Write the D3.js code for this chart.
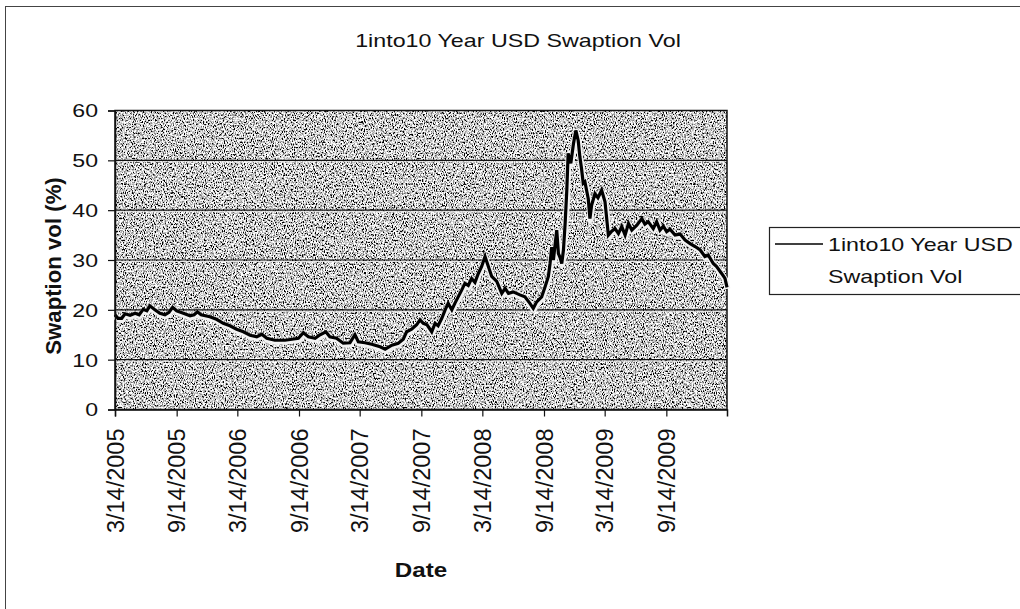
<!DOCTYPE html>
<html>
<head>
<meta charset="utf-8">
<title>1into10 Year USD Swaption Vol</title>
<script src="https://cdn.jsdelivr.net/npm/d3@7"></script>
<style>
    html, body { margin: 0; padding: 0; background: #fff; }
    svg { display: block; font-family: "Liberation Sans", Arial, sans-serif; }
</style>
</head>
<body>
<svg id="chart"></svg>
<script>
const dates = [
    "2005-03-14","2005-03-23","2005-04-03","2005-04-13","2005-04-28","2005-05-13","2005-05-25","2005-06-06",
    "2005-06-17","2005-06-26","2005-07-11","2005-07-26","2005-08-10","2005-08-22","2005-09-02","2005-09-14",
    "2005-10-04","2005-10-24","2005-11-05","2005-11-15","2005-11-26","2005-12-22",
    "2006-01-11","2006-01-31","2006-02-20","2006-03-12","2006-04-01","2006-04-21","2006-05-11","2006-05-26",
    "2006-06-10","2006-07-04","2006-08-03","2006-08-24","2006-09-12","2006-09-27","2006-10-12","2006-11-01",
    "2006-11-16","2006-12-03","2006-12-15",
    "2007-01-04","2007-01-24","2007-02-13","2007-02-28","2007-03-10","2007-03-30","2007-04-19","2007-05-14",
    "2007-05-29","2007-06-18","2007-07-07","2007-07-22","2007-08-01","2007-08-16","2007-08-31","2007-09-10",
    "2007-09-20","2007-10-01","2007-10-15","2007-10-25","2007-11-03","2007-11-14","2007-11-24","2007-12-03",
    "2007-12-14","2007-12-23",
    "2008-01-02","2008-01-12","2008-01-22","2008-02-01","2008-02-11","2008-02-21","2008-03-02","2008-03-12",
    "2008-03-22","2008-04-01","2008-04-11","2008-04-26","2008-05-11","2008-05-21","2008-05-31","2008-06-14",
    "2008-07-04","2008-07-19","2008-08-03","2008-08-13","2008-08-23","2008-09-07","2008-09-17","2008-09-27",
    "2008-10-02","2008-10-07","2008-10-12","2008-10-17","2008-10-22","2008-10-27","2008-11-01","2008-11-06",
    "2008-11-11","2008-11-16","2008-11-21","2008-11-25","2008-12-03","2008-12-11","2008-12-18","2008-12-25",
    "2008-12-30",
    "2009-01-04","2009-01-09","2009-01-14","2009-01-24","2009-01-29","2009-02-03","2009-02-13","2009-02-22",
    "2009-03-05","2009-03-15","2009-03-25","2009-04-04","2009-04-14","2009-04-24","2009-05-04","2009-05-14",
    "2009-05-24","2009-06-03","2009-06-18","2009-07-03","2009-07-12","2009-07-22","2009-08-06","2009-08-16",
    "2009-08-26","2009-09-05","2009-09-15","2009-09-25","2009-10-10","2009-10-25","2009-11-09","2009-11-24",
    "2009-12-09","2009-12-24",
    "2010-01-07","2010-01-17","2010-02-01","2010-02-11","2010-02-26","2010-03-08","2010-03-14"
];

// Swaption vol (%) for each date
const vols = [
    19.0, 18.3, 18.3, 19.2, 18.9, 19.3, 19.0, 20.1,
    19.8, 20.8, 20.0, 19.3, 19.0, 19.5, 20.5, 19.8,
    19.3, 18.8, 19.0, 19.6, 19.0, 18.6,
    18.1, 17.3, 16.8, 16.1, 15.6, 14.9, 14.6, 15.1,
    14.3, 13.9, 13.9, 14.1, 14.3, 15.4, 14.6, 14.3,
    15.0, 15.6, 14.6,
    14.3, 13.3, 13.4, 15.0, 13.6, 13.4, 13.1, 12.6,
    12.1, 12.9, 13.3, 14.1, 15.6, 16.1, 17.0, 18.0,
    17.3, 17.0, 15.6, 17.3, 16.8, 18.3, 20.0, 21.3,
    20.0, 21.3,
    22.6, 23.9, 25.3, 24.9, 26.3, 25.5, 27.3, 28.7,
    30.7, 28.7, 26.7, 25.7, 23.3, 24.3, 23.3, 23.6,
    23.0, 22.6, 21.3, 20.3, 21.6, 22.6, 24.6, 26.7,
    29.3, 32.6, 30.0, 33.0, 36.0, 31.3, 30.5, 29.3,
    32.0, 37.3, 44.0, 51.4, 49.4, 53.4, 56.0, 54.0,
    50.7,
    48.3, 45.4, 45.7, 42.3, 38.3, 41.0, 43.3, 42.5,
    44.0, 41.7, 35.0, 35.8, 36.3, 35.3, 36.7, 35.0,
    37.3, 36.0, 37.0, 38.3, 37.2, 37.7, 36.3, 37.7,
    36.0, 36.8, 35.7, 36.2, 35.0, 35.2, 34.0, 33.3,
    32.7, 32.0,
    30.7, 31.0, 29.3, 28.7, 27.3, 26.3, 24.5
];

const xTickDates = [
    "2005-03-14","2005-09-14","2006-03-14","2006-09-14","2007-03-14",
    "2007-09-14","2008-03-14","2008-09-14","2009-03-14","2009-09-14"
];
const yTicks = [0, 10, 20, 30, 40, 50, 60];

const chartTitle = "1into10 Year USD Swaption Vol";
const seriesName = ["1into10 Year USD", "Swaption Vol"];

const width = 1020, height = 609;
const plot = { left: 115, right: 727, top: 110.5, bottom: 409.5 };
const stretch = 1.25; // the scanned horizontal text is wider than normal

const parse = d3.timeParse("%Y-%m-%d");
const data = dates.map((d, i) => ({ date: parse(d), vol: vols[i] }));

const svg = d3.select("#chart")
    .attr("width", width)
    .attr("height", height);

// Grainy grey fill like the scanned plot area
const defs = svg.append("defs");
const grain = defs.append("filter")
    .attr("id", "grain")
    .attr("x", 0).attr("y", 0).attr("width", 1).attr("height", 1);
grain.append("feTurbulence")
    .attr("type", "fractalNoise")
    .attr("baseFrequency", "0.9 0.55")
    .attr("numOctaves", 2)
    .attr("seed", 7)
    .attr("result", "noise");
grain.append("feColorMatrix")
    .attr("in", "noise")
    .attr("type", "matrix")
    .attr("values", "3.6 0 0 0 -1.2  3.6 0 0 0 -1.2  3.6 0 0 0 -1.2  0 0 0 0 1");

// Outer chart border (right and bottom run off the picture)
svg.append("rect")
    .attr("x", 5.5)
    .attr("y", 6.5)
    .attr("width", 1040)
    .attr("height", 640)
    .attr("fill", "none")
    .attr("stroke", "#444")
    .attr("stroke-width", 1);

// Scales
const x = d3.scaleTime()
    .domain([parse("2005-03-14"), parse("2010-03-14")])
    .range([plot.left, plot.right]);

const y = d3.scaleLinear()
    .domain([0, 60])
    .range([plot.bottom, plot.top]);

// Plot area background
svg.append("rect")
    .attr("x", plot.left)
    .attr("y", plot.top)
    .attr("width", plot.right - plot.left)
    .attr("height", plot.bottom - plot.top)
    .attr("fill", "#949494")
    .attr("filter", "url(#grain)");

// Gridlines (dark line with a light streak under it, as in the scan)
const grid = svg.append("g");
yTicks.filter(v => v > 0 && v < 60).forEach(v => {
    grid.append("line")
        .attr("x1", plot.left).attr("x2", plot.right)
        .attr("y1", y(v) + 1.5).attr("y2", y(v) + 1.5)
        .attr("stroke", "#e6e6e6")
        .attr("stroke-width", 1);
    grid.append("line")
        .attr("x1", plot.left).attr("x2", plot.right)
        .attr("y1", y(v)).attr("y2", y(v))
        .attr("stroke", "#111")
        .attr("stroke-width", 1.2);
});

// Plot border
svg.append("rect")
    .attr("x", plot.left)
    .attr("y", plot.top)
    .attr("width", plot.right - plot.left)
    .attr("height", plot.bottom - plot.top)
    .attr("fill", "none")
    .attr("stroke", "#111")
    .attr("stroke-width", 1.5);

// Series line with light halo
const line = d3.line()
    .x(d => x(d.date))
    .y(d => y(d.vol));

svg.append("path")
    .datum(data)
    .attr("fill", "none")
    .attr("stroke", "#f2f2f2")
    .attr("stroke-width", 6)
    .attr("stroke-linejoin", "round")
    .attr("transform", "translate(0.5,1.5)")
    .attr("d", line);

svg.append("path")
    .datum(data)
    .attr("fill", "none")
    .attr("stroke", "#000")
    .attr("stroke-width", 3.2)
    .attr("stroke-linejoin", "miter")
    .attr("d", line);

// Y axis
const yAxis = svg.append("g")
    .attr("transform", `translate(${plot.left},0)`)
    .call(d3.axisLeft(y).tickValues(yTicks).tickSize(7).tickFormat(d3.format("d")));
yAxis.select(".domain").attr("stroke", "#111").attr("stroke-width", 1.5);
yAxis.selectAll(".tick line").attr("stroke", "#111").attr("stroke-width", 1.2);
yAxis.selectAll(".tick text")
    .attr("x", null)
    .attr("dy", "0.35em")
    .attr("transform", `translate(-17,0) scale(${stretch},1)`)
    .attr("font-size", 18.5)
    .attr("font-family", "Liberation Sans, Arial, sans-serif")
    .attr("fill", "#111");

// X axis
const fmt = d3.timeFormat("%-m/%-d/%Y");
const xAxis = svg.append("g")
    .attr("transform", `translate(0,${plot.bottom})`)
    .call(d3.axisBottom(x).tickValues(xTickDates.map(parse)).tickSize(7).tickFormat(fmt));
xAxis.select(".domain").attr("stroke", "#111").attr("stroke-width", 1.5);
xAxis.selectAll(".tick line").attr("stroke", "#111").attr("stroke-width", 1.2);
xAxis.selectAll(".tick text")
    .attr("x", null)
    .attr("y", null)
    .attr("dy", null)
    .attr("text-anchor", "end")
    .attr("transform", "translate(8,19) rotate(-90)")
    .attr("font-size", 23.5)
    .attr("font-family", "Liberation Sans, Arial, sans-serif")
    .attr("fill", "#111");

// Title
svg.append("text")
    .attr("transform", `translate(518,46.5) scale(${stretch},1)`)
    .attr("text-anchor", "middle")
    .attr("font-size", 18.6)
    .attr("fill", "#111")
    .text(chartTitle);

// Axis titles
svg.append("text")
    .attr("transform", "translate(61,266) rotate(-90)")
    .attr("text-anchor", "middle")
    .attr("font-size", 22.2)
    .attr("font-weight", "bold")
    .attr("fill", "#111")
    .text("Swaption vol (%)");

svg.append("text")
    .attr("transform", "translate(421,577) scale(1.15,1)")
    .attr("text-anchor", "middle")
    .attr("font-size", 21)
    .attr("font-weight", "bold")
    .attr("fill", "#111")
    .text("Date");

// Legend
const legend = svg.append("g");
legend.append("rect")
    .attr("x", 769.5)
    .attr("y", 227.5)
    .attr("width", 300)
    .attr("height", 67)
    .attr("fill", "#fff")
    .attr("stroke", "#222")
    .attr("stroke-width", 1.2);
legend.append("line")
    .attr("x1", 775).attr("x2", 823)
    .attr("y1", 244).attr("y2", 244)
    .attr("stroke", "#000")
    .attr("stroke-width", 1.5);
seriesName.forEach((s, i) => {
    legend.append("text")
        .attr("transform", `translate(828,${250.7 + i * 32}) scale(${stretch},1)`)
        .attr("font-size", 18.6)
        .attr("fill", "#111")
        .text(s);
});
</script>
</body>
</html>
